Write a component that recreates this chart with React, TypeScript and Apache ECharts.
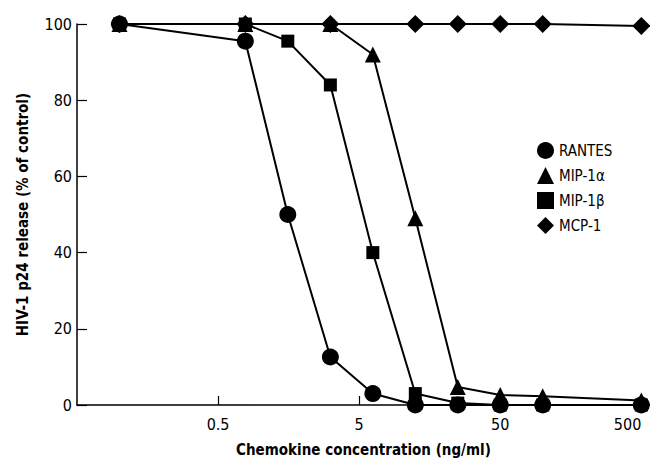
import React, { useEffect, useRef } from "react";
import * as echarts from "echarts";

const xTickValues = [0.5, 5, 50, 500];
const yTickStep = 20;

const rantesConc = [0.1, 0.78, 1.56, 3.125, 6.25, 12.5, 25, 50, 100, 500];
const rantesValues = [100, 95.5, 50, 12.6, 3, 0, 0, 0, 0, 0];

const mip1aConc = [0.1, 0.78, 3.125, 6.25, 12.5, 25, 50, 100, 500];
const mip1aValues = [100, 100, 100, 92, 49, 4.7, 2.6, 2.3, 1.2];

const mip1bConc = [0.1, 0.78, 1.56, 3.125, 6.25, 12.5, 25, 50, 100, 500];
const mip1bValues = [100, 100, 95.5, 84, 40, 3, 0.5, 0, 0, 0];

const mcp1Conc = [0.1, 0.78, 3.125, 12.5, 25, 50, 100, 500];
const mcp1Values = [100, 100, 100, 100, 100, 100, 100, 99.5];

const FONT = "'DejaVu Sans Condensed', 'Liberation Sans', sans-serif";

function pairs(xs: number[], ys: number[]) {
  return xs.map((x, i) => [x, ys[i]]);
}

export default function App() {
  const ref = useRef<HTMLDivElement>(null);
  useEffect(() => {
    if (!ref.current) return;
    const chart = echarts.init(ref.current, null, { renderer: "svg" });
    const lineStyle = { color: "#000", width: 2 };
    const itemStyle = { color: "#000" };
    chart.setOption({
      animation: false,
      backgroundColor: "#fff",
      grid: { left: 77, right: 0, top: 24, bottom: 58, outerBoundsMode: "none", containLabel: false },
      legend: {
        orient: "vertical",
        left: 532,
        top: 137,
        itemWidth: 17,
        itemHeight: 17,
        itemGap: 8,
        itemStyle: { color: "#000" },
        textStyle: { color: "#000", fontSize: 15, fontFamily: FONT },
        data: [
          { name: "RANTES", icon: "circle" },
          { name: "MIP-1α", icon: "triangle" },
          { name: "MIP-1β", icon: "rect" },
          { name: "MCP-1", icon: "diamond" },
        ],
      },
      xAxis: {
        type: "log",
        min: 0.05,
        max: 576,
        name: "Chemokine concentration (ng/ml)",
        nameLocation: "middle",
        nameGap: 37,
        nameTextStyle: { color: "#000", fontSize: 15, fontWeight: "bold", fontFamily: FONT },
        axisLine: { lineStyle: { color: "#000", width: 1.5 } },
        axisTick: { inside: true, length: 9, customValues: xTickValues, lineStyle: { color: "#000", width: 1.2 } },
        axisLabel: {
          customValues: xTickValues,
          color: "#000",
          fontSize: 16,
          fontFamily: FONT,
          margin: 11,
          alignMaxLabel: "right",
          formatter: (v: number) => String(v),
        },
        splitLine: { show: false },
        minorTick: { show: false },
      },
      yAxis: {
        type: "value",
        min: 0,
        max: 100,
        interval: yTickStep,
        name: "HIV-1 p24 release (% of control)",
        nameLocation: "middle",
        nameGap: 47,
        nameTextStyle: { color: "#000", fontSize: 15, fontWeight: "bold", fontFamily: FONT },
        axisLine: { show: true, lineStyle: { color: "#000", width: 1.5 } },
        axisTick: { show: true, inside: true, length: 10, lineStyle: { color: "#000", width: 1.2 } },
        axisLabel: { color: "#000", fontSize: 16, fontFamily: FONT, margin: 5 },
        splitLine: { show: false },
      },
      series: [
        {
          name: "RANTES",
          type: "line",
          z: 5,
          symbol: "circle",
          symbolSize: 17,
          data: pairs(rantesConc, rantesValues),
          lineStyle,
          itemStyle,
        },
        {
          name: "MIP-1α",
          type: "line",
          z: 3,
          symbol: "triangle",
          symbolSize: 16,
          data: pairs(mip1aConc, mip1aValues),
          lineStyle,
          itemStyle,
        },
        {
          name: "MIP-1β",
          type: "line",
          z: 4,
          symbol: "rect",
          symbolSize: 13,
          data: pairs(mip1bConc, mip1bValues),
          lineStyle,
          itemStyle,
        },
        {
          name: "MCP-1",
          type: "line",
          z: 2,
          symbol: "diamond",
          symbolSize: 18,
          data: pairs(mcp1Conc, mcp1Values),
          lineStyle,
          itemStyle,
        },
      ],
    });
    return () => chart.dispose();
  }, []);
  return (
    <div
      ref={ref}
      style={{ position: "fixed", left: 0, top: 0, width: 650, height: 463 }}
    />
  );
}
